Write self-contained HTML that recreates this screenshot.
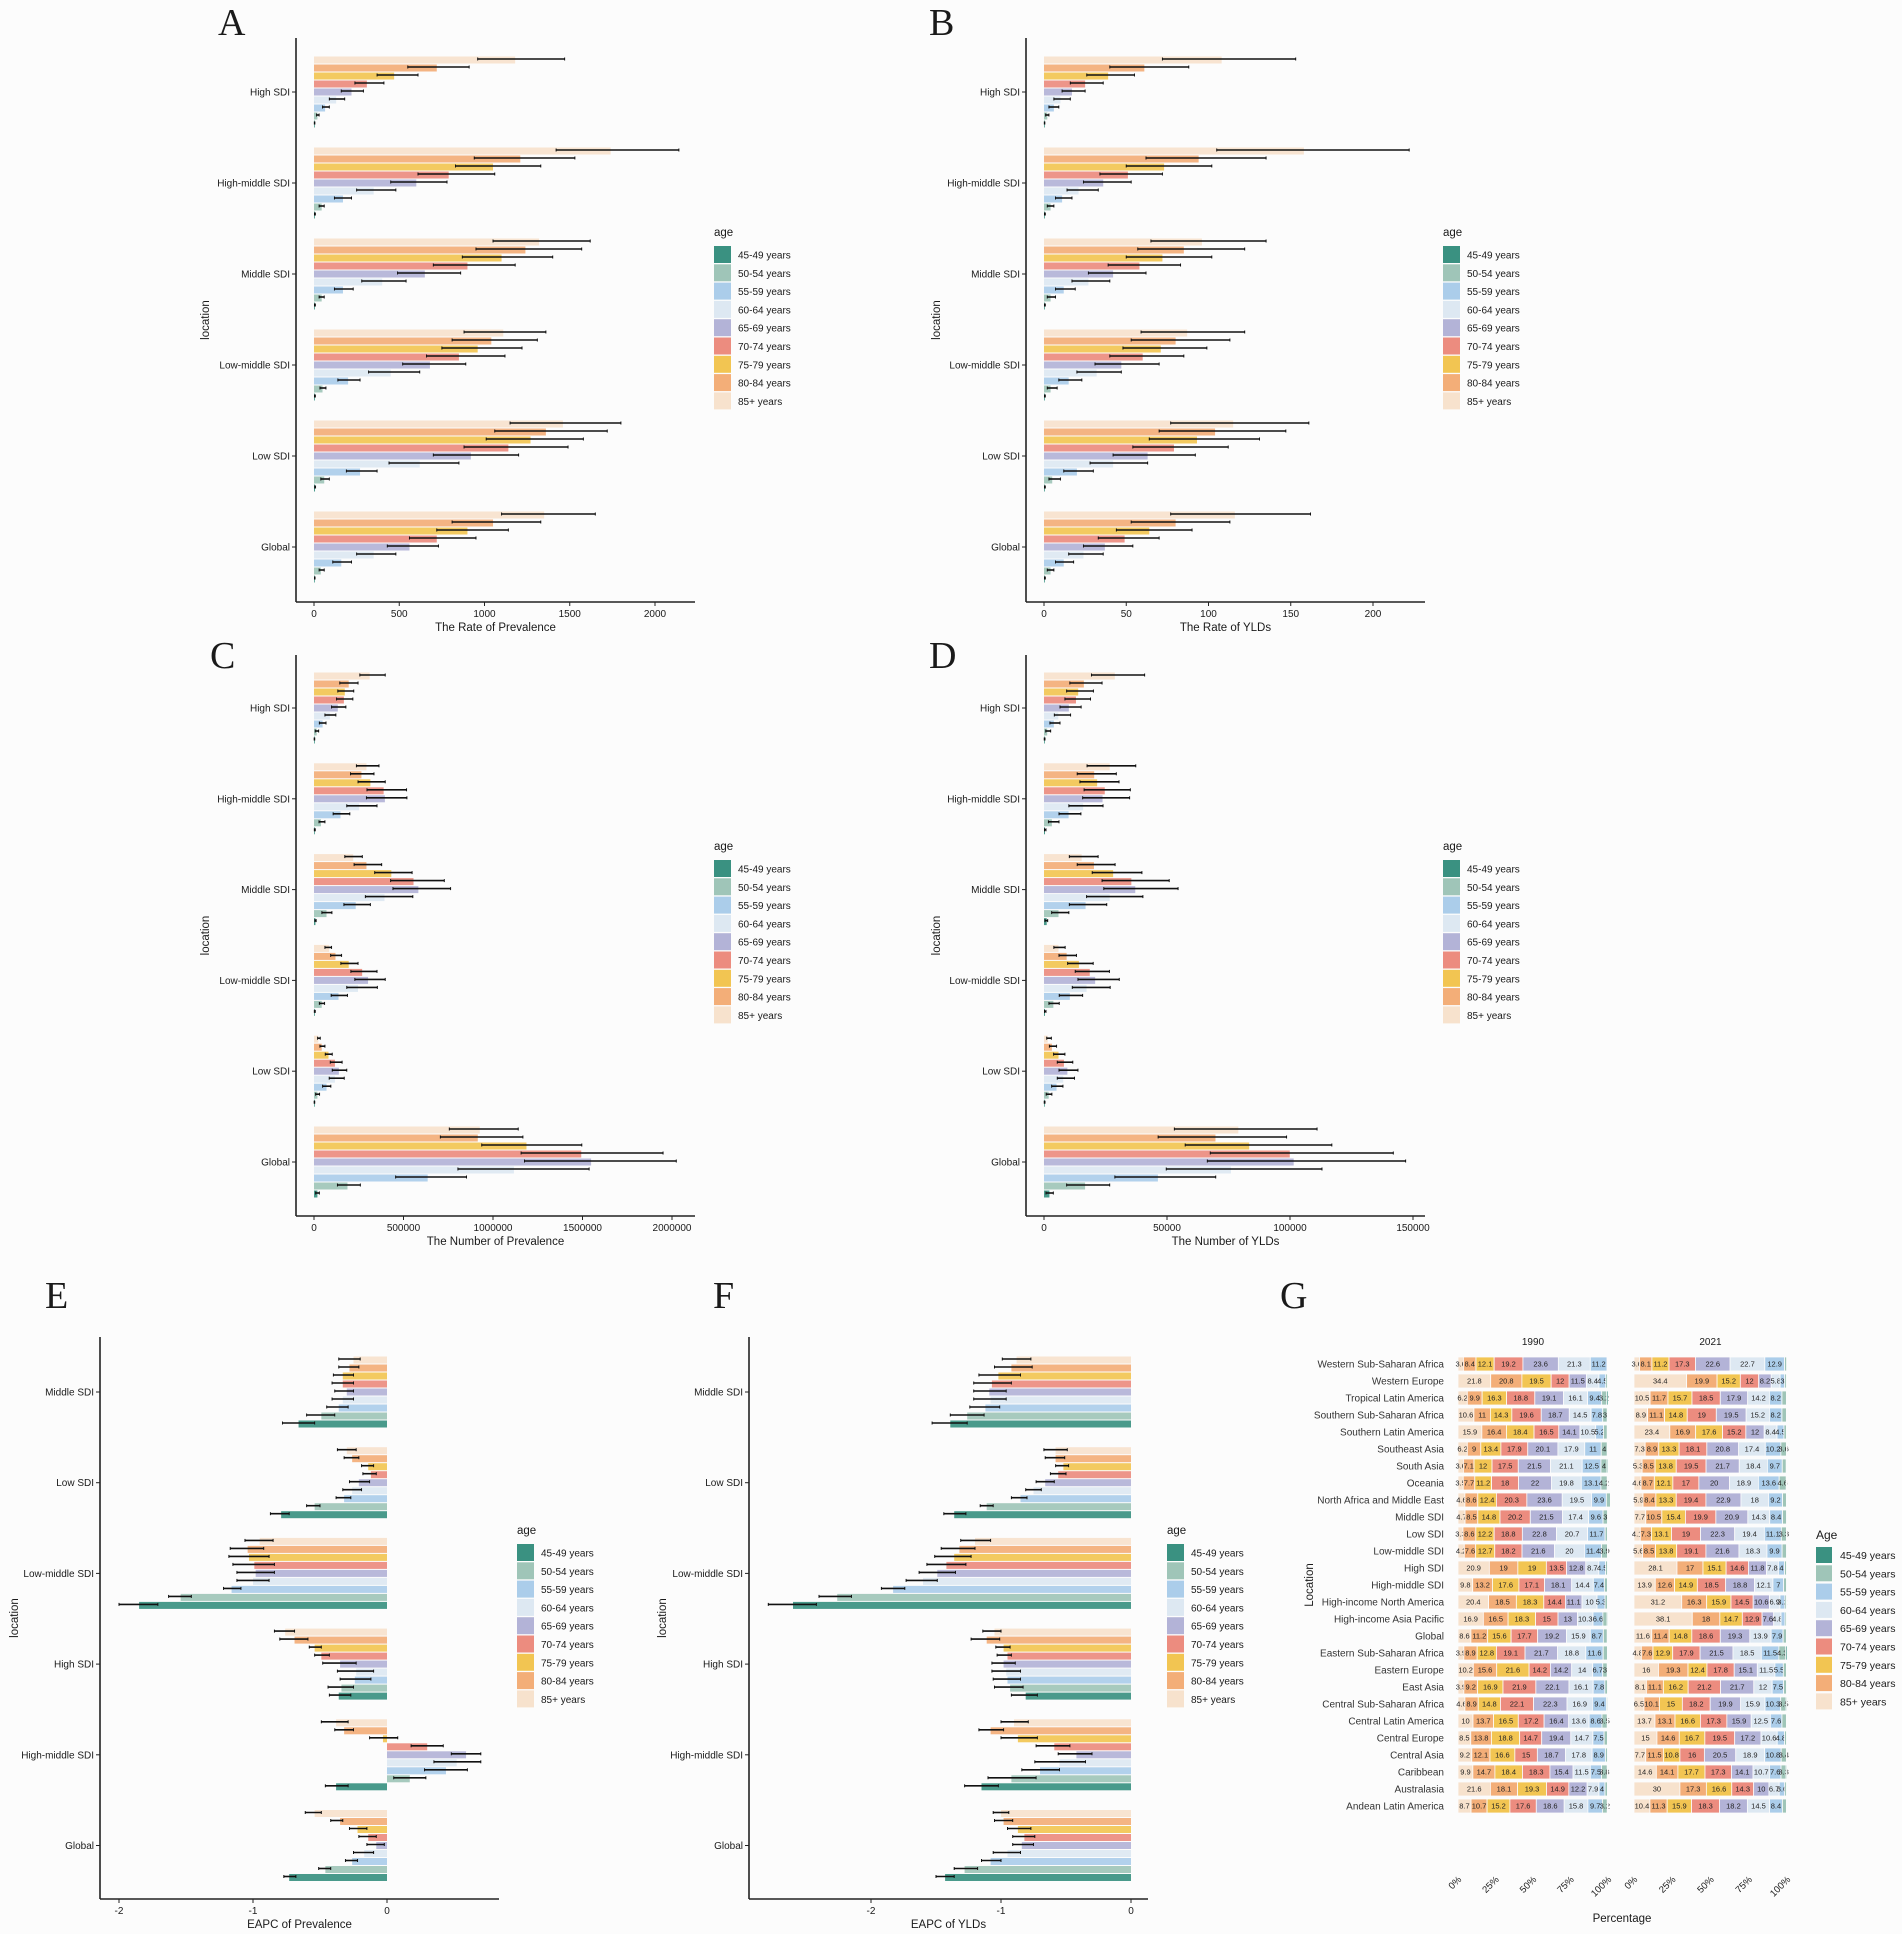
<!DOCTYPE html>
<html><head><meta charset="utf-8"><title>Figure</title>
<style>
html,body{margin:0;padding:0;background:#fcfcfc;}
svg{display:block;font-family:"Liberation Sans",sans-serif;}
</style></head>
<body>
<svg id="fig" width="1902" height="1934" viewBox="0 0 1902 1934" xmlns="http://www.w3.org/2000/svg">
<rect x="0" y="0" width="1902" height="1934" fill="#fcfcfc"/>
</svg>
<script>
// ---------- shared ----------
const ages = ['85+ years','80-84 years','75-79 years','70-74 years','65-69 years','60-64 years','55-59 years','50-54 years','45-49 years'];
const ageColors = ['#f7e2cd','#f3ae78','#f2c552','#ec8c7f','#b3b3d7','#dde8f2','#abcdea','#9fc5b8','#3a9181'];
const sdiCats = ['High SDI','High-middle SDI','Middle SDI','Low-middle SDI','Low SDI','Global'];
const eapcCats = ['Middle SDI','Low SDI','Low-middle SDI','High SDI','High-middle SDI','Global'];

// ---------- Panel A: rate of prevalence ----------
const aTicks = [0,500,1000,1500,2000];
const aTickLabels = ['0','500','1000','1500','2000'];
const aVal = [[1180,720,470,310,220,130,65,20,3],[1740,1210,1050,790,600,350,170,45,5],[1320,1240,1100,900,650,400,170,45,5],[1110,1040,960,850,680,450,200,50,5],[1460,1360,1270,1140,920,620,270,60,6],[1350,1050,900,720,560,350,160,40,4]];
const aLo = [[960,550,370,240,160,90,50,15,2],[1420,940,830,610,450,250,120,30,3],[1050,950,870,700,490,280,120,30,3],[880,810,750,660,520,320,140,35,3],[1150,1060,1010,880,700,440,190,40,4],[1100,810,720,560,430,250,110,30,3]];
const aHi = [[1470,910,610,410,290,180,90,30,5],[2140,1530,1330,1060,780,480,220,60,8],[1620,1570,1400,1180,860,540,230,60,8],[1360,1310,1220,1120,890,620,270,70,8],[1800,1720,1580,1490,1200,850,370,90,9],[1650,1330,1140,950,730,480,220,60,6]];

// ---------- Panel B: rate of YLDs ----------
const bTicks = [0,50,100,150,200];
const bTickLabels = ['0','50','100','150','200'];
const bVal = [[108,61,39,25,17,10,6,2,0.3],[158,94,73,51,36,21,11,4,0.5],[96,85,72,58,42,27,12,4,0.5],[87,80,71,60,47,32,15,4,0.5],[115,104,93,79,63,42,20,5,0.5],[116,80,64,49,37,24,12,4,0.5]];
const bLo = [[72,40,26,16,11,6,3,1,0.2],[105,62,50,34,24,14,7,2,0.3],[65,57,50,39,27,17,7,2,0.3],[59,53,48,40,31,20,9,2,0.3],[77,70,64,54,42,28,12,3,0.3],[77,53,44,33,24,15,7,2,0.3]];
const bHi = [[153,88,55,36,25,16,9,3,0.5],[222,135,102,72,53,33,17,6,0.8],[135,122,102,83,62,40,19,7,0.8],[122,113,99,85,70,47,23,8,0.8],[161,147,131,112,92,63,30,10,0.8],[162,113,90,70,54,36,18,6,0.8]];

// ---------- Panel C: number of prevalence (thousands) ----------
const cTicks = [0,500,1000,1500,2000];
const cTickLabels = ['0','500000','1000000','1500000','2000000'];
const cVal = [[311,194,172,167,133,89,48,15,2],[293,265,315,389,396,252,148,39,4],[219,293,432,556,583,394,233,70,8],[85,120,194,269,302,246,137,43,4],[24,43,81,117,139,117,70,19,2],[926,915,1187,1493,1548,1117,635,187,19]];
const cLo = [[256,144,133,126,98,61,30,7,1],[237,204,246,296,293,183,107,28,2],[172,224,339,428,441,287,167,44,5],[61,93,150,206,228,183,96,30,2],[20,33,63,91,102,85,48,9,1],[756,706,937,1157,1176,804,456,131,9]];
const cHi = [[398,246,222,217,178,122,67,26,4],[363,335,398,517,519,352,200,61,7],[270,378,548,728,763,552,315,100,12],[98,154,246,352,398,354,187,59,7],[35,61,102,157,183,169,94,31,4],[1141,1167,1496,1950,2024,1537,852,259,30]];

// ---------- Panel D: number of YLDs (thousands) ----------
const dTicks = [0,50,100,150];
const dTickLabels = ['0','50000','100000','150000'];
const dVal = [[28.8,16.2,13.9,13,10.1,5.8,4,1.3,0.2],[26.7,20.4,21.6,24.7,23.8,15.9,10,3.2,0.4],[15.3,20.3,28.1,35.5,37.1,26.7,16.9,5.9,1.1],[5.9,9.2,14.2,18.6,20.8,17.3,10.5,3.8,0.4],[1.5,3.2,5.9,8.1,9.5,7.8,5.1,1.9,0.2],[79,69.7,83.4,99.9,101.5,76,46.3,16.7,2.2]];
const dLo = [[19.3,10.5,9.2,8.5,6.5,4.2,2.4,0.7,0.1],[17.5,13.5,14.6,16.3,15.7,10.1,6.1,1.8,0.2],[10.3,13.5,19.6,23.6,24.3,17.3,10.3,3.1,0.4],[4,6.1,9.6,12.7,13.8,11.5,6.2,2,0.2],[1.1,2.2,3.9,5.4,6.1,5.4,3.1,0.9,0.1],[53,46.4,57.4,67.6,66.4,49.7,28.8,9.2,0.8]];
const dHi = [[40.9,23.6,20.1,18.9,15.1,10.8,6.5,2.7,0.4],[37.3,29.4,30.5,35.1,34.8,24,15,6.1,0.8],[22,28.9,39.8,50.9,54.5,40.2,25.5,10.1,1.5],[8.6,13.2,20,26.6,30.6,26.9,15.7,6.2,0.8],[3,5.1,8.5,11.7,13.8,12.4,7.7,3.2,0.4],[111,98.6,117,142,147,113,69.8,26.7,3.8]];

// ---------- Panel E: EAPC of prevalence ----------
const eTicks = [-2,-1,0];
const eTickLabels = ['-2','-1','0'];
const eVal = [[-0.25,-0.28,-0.33,-0.33,-0.3,-0.33,-0.36,-0.49,-0.66],[-0.3,-0.26,-0.14,-0.12,-0.21,-0.26,-0.32,-0.54,-0.79],[-0.95,-1.04,-1.03,-0.99,-0.98,-1.0,-1.16,-1.54,-1.85],[-0.76,-0.69,-0.54,-0.49,-0.35,-0.23,-0.24,-0.34,-0.36],[-0.38,-0.32,-0.03,0.3,0.59,0.52,0.44,0.17,-0.38],[-0.54,-0.35,-0.22,-0.14,-0.08,-0.17,-0.26,-0.46,-0.73]];
const eLo = [[-0.36,-0.36,-0.4,-0.41,-0.39,-0.41,-0.45,-0.6,-0.78],[-0.37,-0.32,-0.19,-0.18,-0.28,-0.33,-0.38,-0.6,-0.87],[-1.06,-1.17,-1.18,-1.15,-1.12,-1.12,-1.22,-1.63,-2.0],[-0.84,-0.8,-0.58,-0.54,-0.48,-0.37,-0.35,-0.44,-0.43],[-0.49,-0.39,-0.13,0.18,0.48,0.35,0.28,0.05,-0.46],[-0.61,-0.42,-0.28,-0.21,-0.15,-0.25,-0.31,-0.51,-0.77]];
const eHi = [[-0.2,-0.21,-0.25,-0.25,-0.25,-0.25,-0.29,-0.39,-0.54],[-0.23,-0.21,-0.1,-0.08,-0.13,-0.19,-0.27,-0.5,-0.73],[-0.85,-0.92,-0.88,-0.84,-0.84,-0.88,-1.09,-1.46,-1.71],[-0.69,-0.59,-0.49,-0.43,-0.23,-0.1,-0.12,-0.25,-0.27],[-0.29,-0.25,0.08,0.42,0.7,0.7,0.6,0.29,-0.29],[-0.49,-0.33,-0.15,-0.08,-0.02,-0.1,-0.22,-0.42,-0.68]];

// ---------- Panel F: EAPC of YLDs ----------
const fTicks = [-2,-1,0];
const fTickLabels = ['-2','-1','0'];
const fVal = [[-0.88,-0.92,-1.02,-1.07,-1.09,-1.08,-1.12,-1.26,-1.39],[-0.58,-0.58,-0.52,-0.56,-0.66,-0.75,-0.85,-1.11,-1.36],[-1.2,-1.32,-1.36,-1.42,-1.49,-1.6,-1.83,-2.26,-2.6],[-1.05,-1.11,-0.98,-0.95,-0.98,-0.96,-0.95,-0.93,-0.81],[-0.9,-1.08,-0.87,-0.59,-0.42,-0.55,-0.7,-0.92,-1.15],[-1.0,-0.98,-0.87,-0.82,-0.84,-0.95,-1.08,-1.28,-1.43]];
const fLo = [[-0.99,-1.05,-1.17,-1.21,-1.21,-1.21,-1.24,-1.39,-1.53],[-0.67,-0.66,-0.58,-0.62,-0.73,-0.81,-0.92,-1.16,-1.44],[-1.31,-1.46,-1.51,-1.57,-1.63,-1.73,-1.92,-2.4,-2.79],[-1.14,-1.23,-1.04,-1.03,-1.07,-1.07,-1.06,-1.05,-0.92],[-1.0,-1.17,-1.0,-0.73,-0.56,-0.74,-0.84,-1.1,-1.28],[-1.06,-1.05,-0.95,-0.91,-0.91,-1.06,-1.15,-1.36,-1.5]];
const fHi = [[-0.77,-0.76,-0.85,-0.92,-0.96,-0.96,-1.01,-1.13,-1.26],[-0.49,-0.51,-0.48,-0.5,-0.59,-0.69,-0.8,-1.06,-1.27],[-1.08,-1.2,-1.23,-1.27,-1.35,-1.49,-1.74,-2.15,-2.42],[-1.0,-1.01,-0.93,-0.92,-0.89,-0.85,-0.85,-0.83,-0.72],[-0.79,-0.98,-0.72,-0.47,-0.3,-0.35,-0.55,-0.73,-1.02],[-0.94,-0.91,-0.77,-0.74,-0.75,-0.85,-1.0,-1.18,-1.36]];

// ---------- Panel G: age composition (%) ----------
const gRegions = ['Western Sub-Saharan Africa','Western Europe','Tropical Latin America','Southern Sub-Saharan Africa','Southern Latin America','Southeast Asia','South Asia','Oceania','North Africa and Middle East','Middle SDI','Low SDI','Low-middle SDI','High SDI','High-middle SDI','High-income North America','High-income Asia Pacific','Global','Eastern Sub-Saharan Africa','Eastern Europe','East Asia','Central Sub-Saharan Africa','Central Latin America','Central Europe','Central Asia','Caribbean','Australasia','Andean Latin America'];
const gYears = ['1990','2021'];
const gTickLabels = ['0%','25%','50%','75%','100%'];
const g1990 = [[3.6,8.4,12.1,19.2,23.6,21.3,11.2,0.4,0.2],[21.8,20.8,19.5,12,11.5,8.4,4.5,1.2,0.3],[6.2,9.9,16.3,18.8,19.1,16.1,9.4,3.2,1],[10.6,11,14.3,19.6,18.7,14.5,7.8,3,0.5],[15.9,16.4,18.4,16.5,14.1,10.5,5.2,2.5,0.5],[6.2,9,13.4,17.9,20.1,17.9,11,4,0.5],[3.6,7.1,12,17.5,21.5,21.1,12.5,4,0.7],[3.5,7.7,11.2,18,22,19.8,13.1,4.2,0.5],[4.6,8.6,12.4,20.3,23.6,19.5,9.9,2.7,0.4],[4.7,8.5,14.8,20.2,21.5,17.4,9.6,3,0.3],[3.3,8.6,12.2,18.8,22.8,20.7,11.7,1.5,0.4],[4.2,7.6,12.7,18.2,21.6,20,11.4,3.9,0.4],[20.9,19,19,13.5,12.8,8.7,4.5,1.3,0.3],[9.8,13.2,17.6,17.1,18.1,14.4,7.4,2,0.4],[20.4,18.5,18.3,14.4,11.1,10,5.3,1.6,0.4],[16.9,16.5,18.3,15,13,10.3,6.6,2.8,0.6],[8.6,11.2,15.6,17.7,19.2,15.9,8.7,2.6,0.5],[3.9,8.9,12.8,19.1,21.7,18.8,11.6,2.8,0.4],[10.2,15.6,21.6,14.2,14.2,14,6.7,3,0.5],[3.9,9.2,16.9,21.9,22.1,16.1,7.8,1.8,0.3],[4.6,8.9,14.8,22.1,22.3,16.9,9.4,0.8,0.2],[10,13.7,16.5,17.2,16.4,13.6,8.6,3.5,0.5],[8.5,13.8,18.8,14.7,19.4,14.7,7.5,2.2,0.4],[9.2,12.1,16.6,15,18.7,17.8,8.9,1.4,0.3],[9.9,14.7,18.4,18.3,15.4,11.5,7.5,3.8,0.5],[21.6,18.1,19.3,14.9,12.2,7.9,4,1.6,0.4],[8.7,10.7,15.2,17.6,18.6,15.8,9.7,3.2,0.5]];
const g2021 = [[3.6,8.1,11.2,17.3,22.6,22.7,12.9,1.4,0.2],[34.4,19.9,15.2,12,8.2,5.8,3,1.2,0.3],[10.5,11.7,15.7,18.5,17.9,14.2,8.2,2.9,0.4],[8.9,11.1,14.8,19,19.5,15.2,8.2,2.9,0.4],[23.4,16.9,17.6,15.2,12,8.4,4.5,1.6,0.4],[7.3,8.9,13.3,18.1,20.8,17.4,10.2,3.6,0.4],[5.3,8.5,13.8,19.5,21.7,18.4,9.7,2.6,0.5],[4.6,8.7,12.1,17,20,18.9,13.6,4.6,0.5],[5.9,8.4,13.3,19.4,22.9,18,9.2,2.5,0.4],[7.7,10.5,15.4,19.9,20.9,14.3,8.4,2.6,0.3],[4.1,7.3,13.1,19,22.3,19.4,11.1,3.3,0.4],[5.6,8.5,13.8,19.1,21.6,18.3,9.9,2.9,0.3],[28.1,17,15.1,14.6,11.8,7.8,4,1.3,0.3],[13.9,12.6,14.9,18.5,18.8,12.1,7,1.9,0.3],[31.2,16.3,15.9,14.5,10.6,6.9,3.2,1.1,0.3],[38.1,18,14.7,12.9,7.6,4.8,2.6,1,0.3],[11.6,11.4,14.8,18.6,19.3,13.9,7.9,2.1,0.4],[4.8,7.6,12.9,17.9,21.5,18.5,11.5,4.3,1],[16,19.3,12.4,17.8,15.1,11.5,5.5,2,0.4],[8.1,11.1,16.2,21.2,21.7,12,7.5,1.9,0.3],[6.5,10.1,15,18.2,19.9,15.9,10.3,3.5,0.6],[13.7,13.1,16.6,17.3,15.9,12.5,7.6,2.9,0.4],[15,14.6,16.7,19.5,17.2,10.6,4.8,1.3,0.3],[7.7,11.5,10.8,16,20.5,18.9,10.8,3.4,0.4],[14.6,14.1,17.7,17.3,14.1,10.7,7.6,3.3,0.6],[30,17.3,16.6,14.3,10,6.7,3.6,1.2,0.3],[10.4,11.3,15.9,18.3,18.2,14.5,8.4,2.6,0.4]];

// ---------- drawing helpers ----------
const NS = 'http://www.w3.org/2000/svg';
const svg = document.getElementById('fig');
function mk(tag, parent, attrs) {
  const e = document.createElementNS(NS, tag);
  for (const k in attrs) e.setAttribute(k, attrs[k]);
  parent.appendChild(e);
  return e;
}
function txt(parent, x, y, s, attrs) {
  const t = mk('text', parent, Object.assign({x: x, y: y, fill: '#1a1a1a'}, attrs || {}));
  t.textContent = s;
  return t;
}

function drawBarPanel(p) {
  const g = mk('g', svg, {});
  
  
  const x = v => p.x0 + (v - p.d0) * (p.x1 - p.x0) / (p.d1 - p.d0);
  const zeroX = x(0);
  const L = txt(g, p.letterX, p.letterY, p.letter, {'font-family': '"Liberation Serif",serif', 'font-size': 38});
  
  
  p.cats.forEach((cat, i) => {
    const cy = p.catY0 + i * p.catStep;
    for (let j = 0; j < 9; j++) {
      const by = cy - 32 + j * 8;
      const v = p.val[i][j];
      const r = mk('rect', g, {x: Math.min(zeroX, x(v)), y: by - 3.5, width: Math.max(0.8, Math.abs(x(v) - zeroX)), height: 7, fill: ageColors[j], 'fill-opacity': 0.92});
      
      
      const lo = x(p.lo[i][j]), hi = x(p.hi[i][j]);
      const eg = mk('g', g, {stroke: '#111', 'stroke-width': 1.6});
      
      
      mk('line', eg, {x1: lo, x2: hi, y1: by - 1, y2: by - 1});
      mk('line', eg, {x1: lo, x2: lo, y1: by - 2.5, y2: by + 0.5, 'stroke-width': 1});
      mk('line', eg, {x1: hi, x2: hi, y1: by - 2.5, y2: by + 0.5, 'stroke-width': 1});
    }
    const ct = txt(g, p.axisX - 6, cy + 3.5, cat, {'font-size': 10, 'text-anchor': 'end'});
    
    
    mk('line', g, {x1: p.axisX - 4, x2: p.axisX, y1: cy, y2: cy, stroke: '#222', 'stroke-width': 1});
  });
  const ya = mk('line', g, {x1: p.axisX, x2: p.axisX, y1: p.top, y2: p.bottom, stroke: '#222', 'stroke-width': 1.6});
  
  
  const xa = mk('line', g, {x1: p.axisX, x2: p.right, y1: p.bottom, y2: p.bottom, stroke: '#222', 'stroke-width': 1.6});
  
  
  p.ticks.forEach((t, k) => {
    mk('line', g, {x1: x(t), x2: x(t), y1: p.bottom, y2: p.bottom + 4, stroke: '#222', 'stroke-width': 1});
    const tl = txt(g, x(t), p.bottom + 15, p.tickLabels[k], {'font-size': 10, 'text-anchor': 'middle'});
    
    
  });
  const xt = txt(g, (p.axisX + p.right) / 2, p.bottom + 29, p.title, {'font-size': 11.5, 'text-anchor': 'middle'});
  
  
  const yt = txt(g, 0, 0, 'location', {'font-size': 11.5, 'text-anchor': 'middle', transform: 'translate(' + p.locX + ',' + ((p.top + p.bottom) / 2) + ') rotate(-90)'});
  
  
  const lg = mk('g', g, {});
  
  
  const lt = txt(lg, p.legX, p.legY, 'age', {'font-size': 11.5});
  
  
  for (let k = 0; k < 9; k++) {
    const j = 8 - k;
    const sy = p.legY + 10 + k * 18.3;
    const sw = mk('rect', lg, {x: p.legX, y: sy, width: 17, height: 17, fill: ageColors[j]});
    
    
    const le = txt(lg, p.legX + 24, sy + 12.5, ages[j], {'font-size': 10});
    
    
  }
}

drawBarPanel({name:'panel-a-rate-prevalence', letter:'A', letterX:218, letterY:35, cats:sdiCats, val:aVal, lo:aLo, hi:aHi,
  d0:0, d1:2000, x0:314, x1:655, axisX:296, right:695, top:38, bottom:602, catY0:92, catStep:91,
  ticks:aTicks, tickLabels:aTickLabels, title:'The Rate of Prevalence', locX:209, legX:714, legY:236});
drawBarPanel({name:'panel-b-rate-ylds', letter:'B', letterX:929, letterY:35, cats:sdiCats, val:bVal, lo:bLo, hi:bHi,
  d0:0, d1:200, x0:1044, x1:1373, axisX:1026, right:1425, top:38, bottom:602, catY0:92, catStep:91,
  ticks:bTicks, tickLabels:bTickLabels, title:'The Rate of YLDs', locX:940, legX:1443, legY:236});
drawBarPanel({name:'panel-c-number-prevalence', letter:'C', letterX:210, letterY:668, cats:sdiCats, val:cVal, lo:cLo, hi:cHi,
  d0:0, d1:2000, x0:314, x1:672, axisX:296, right:695, top:655, bottom:1216, catY0:708, catStep:90.8,
  ticks:cTicks, tickLabels:cTickLabels, title:'The Number of Prevalence', locX:209, legX:714, legY:850});
drawBarPanel({name:'panel-d-number-ylds', letter:'D', letterX:929, letterY:668, cats:sdiCats, val:dVal, lo:dLo, hi:dHi,
  d0:0, d1:150, x0:1044, x1:1413, axisX:1026, right:1425, top:655, bottom:1216, catY0:708, catStep:90.8,
  ticks:dTicks, tickLabels:dTickLabels, title:'The Number of YLDs', locX:940, legX:1443, legY:850});
drawBarPanel({name:'panel-e-eapc-prevalence', letter:'E', letterX:45, letterY:1308, cats:eapcCats, val:eVal, lo:eLo, hi:eHi,
  d0:-2, d1:0, x0:119, x1:387, axisX:100, right:499, top:1337, bottom:1899, catY0:1392, catStep:90.7,
  ticks:eTicks, tickLabels:eTickLabels, title:'EAPC of Prevalence', locX:18, legX:517, legY:1534});
drawBarPanel({name:'panel-f-eapc-ylds', letter:'F', letterX:713, letterY:1308, cats:eapcCats, val:fVal, lo:fLo, hi:fHi,
  d0:-2, d1:0, x0:871, x1:1131, axisX:749, right:1148, top:1337, bottom:1899, catY0:1392, catStep:90.7,
  ticks:fTicks, tickLabels:fTickLabels, title:'EAPC of YLDs', locX:666, legX:1167, legY:1534});

// ---------- Panel G ----------
(function () {
  const g = mk('g', svg, {});
  
  
  const L = txt(g, 1280, 1308, 'G', {'font-family': '"Liberation Serif",serif', 'font-size': 38});
  
  
  const facets = [{x0: 1458, x1: 1608, data: g1990, year: gYears[0]}, {x0: 1634, x1: 1787, data: g2021, year: gYears[1]}];
  const rowY = r => 1364 + r * 17.0;
  facets.forEach(f => {
    const sx = v => f.x0 + v / 100 * (f.x1 - f.x0);
    const h = txt(g, (f.x0 + f.x1) / 2, 1345, f.year, {'font-size': 10, 'text-anchor': 'middle'});
    
    
    f.data.forEach((row, r) => {
      let cum = 0;
      const cy = rowY(r);
      row.forEach((v, j) => {
        const seg = mk('rect', g, {x: sx(cum), y: cy - 7, width: sx(cum + v) - sx(cum), height: 14, fill: ageColors[j], stroke: '#fcfcfc', 'stroke-width': 0.8});
        
        
        if (v >= 3) {
          const n = txt(g, sx(cum + v / 2), cy + 2.7, String(v), {'font-size': 7.5, 'text-anchor': 'middle', fill: '#222'});
          
          
        }
        cum += v;
      });
    });
    [0, 25, 50, 75, 100].forEach((t, k) => {
      const tx = sx(t);
      const tl = txt(g, 0, 0, gTickLabels[k], {'font-size': 9.5, 'text-anchor': 'end', transform: 'translate(' + (tx + 4) + ',' + 1880 + ') rotate(-45)'});
      
      
    });
  });
  gRegions.forEach((name, r) => {
    const t = txt(g, 1444, rowY(r) + 3.5, name, {'font-size': 10, 'text-anchor': 'end', fill: '#333'});
    
    
  });
  const xt = txt(g, 1622, 1922, 'Percentage', {'font-size': 11.5, 'text-anchor': 'middle'});
  
  
  const yt = txt(g, 0, 0, 'Location', {'font-size': 11.5, 'text-anchor': 'middle', transform: 'translate(1313,1585) rotate(-90)'});
  
  
  const lg = mk('g', g, {});
  
  
  const lt = txt(lg, 1816, 1539, 'Age', {'font-size': 12});
  
  
  for (let k = 0; k < 9; k++) {
    const j = 8 - k;
    const sy = 1547 + k * 18.3;
    const sw = mk('rect', lg, {x: 1816, y: sy, width: 16, height: 16, fill: ageColors[j]});
    
    
    const le = txt(lg, 1840, sy + 12, ages[j], {'font-size': 10.5});
    
    
  }
})();
</script>
</body></html>
